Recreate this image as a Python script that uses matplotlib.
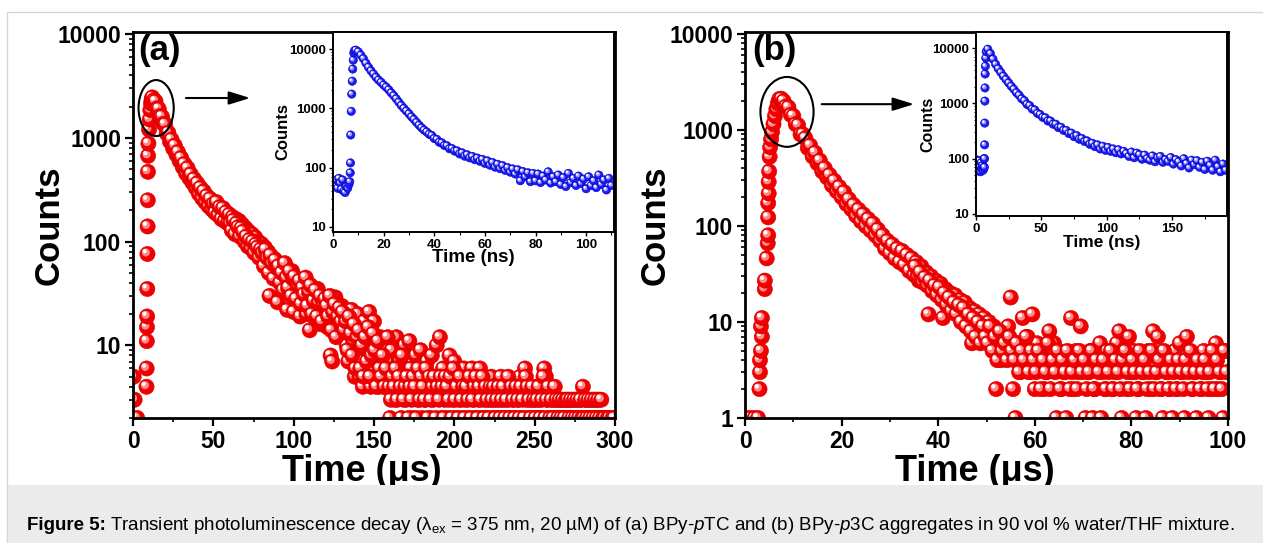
import numpy as np
import matplotlib
matplotlib.use('Agg')
import matplotlib.pyplot as plt
from matplotlib.patches import Ellipse, Rectangle
from matplotlib.ticker import LogLocator, MultipleLocator, NullFormatter

# ---------------- data ----------------
# (a) BPy-pTC, microsecond decay: early points (pre-pulse + rising edge)
a_early_t = [0.4, 1.0, 2.6, 8.4, 8.5, 8.6, 8.7, 8.8, 8.9, 9.0, 9.1, 9.2, 9.3, 9.4,
             9.6, 10.0, 10.4, 10.8, 11.2, 11.6]
a_early_counts = [5, 3, 2, 4, 6, 11, 15, 19, 35, 76, 140, 250, 470, 670,
                  880, 1200, 1500, 1850, 2150, 2350]
# decay, one channel per microsecond starting at 12 us
a_decay_start = 12
a_decay_counts = [
    2450, 2300, 2250, 1920, 1900, 1620, 1600, 1360,
    1350, 1100, 1120, 920, 960, 790, 840, 690, 730, 600,
    640, 520, 560, 455, 510, 410, 445, 370, 400, 330,
    365, 290, 330, 262, 305, 240, 275, 220, 258, 205,
    230, 190, 240, 180, 215, 165, 210, 158, 192, 150,
    182, 140, 172, 130, 165, 122, 158, 112, 146, 108,
    135, 98, 125, 92, 118, 84, 110, 76, 100, 72,
    95, 66, 88, 60, 80, 30, 72, 52, 68, 46,
    26, 62, 44, 55, 38, 58, 22, 48, 34, 52,
    21, 44, 30, 38, 19, 40, 28, 34, 20, 36,
    14, 32, 22, 30, 18, 35, 24, 16, 29, 21,
    26, 15, 22, 8, 7, 18, 29, 13, 20, 16,
    24, 12, 18, 10, 7, 16, 22, 11, 5, 14,
    20, 5, 13, 4, 17, 9, 5, 21, 4, 11,
    17, 5, 8, 4, 12, 6, 4, 10, 5, 7,
    2, 9, 5, 3, 12, 4, 7, 2, 5, 10,
    3, 4, 11, 6, 2, 5, 8, 3, 4, 9,
    2, 5, 3, 7, 4, 2, 8, 3, 5, 10,
    4, 12, 2, 6, 3, 5, 2, 8, 4, 3,
    7, 2, 5, 3, 4, 2, 6, 3, 5, 2,
    4, 6, 3, 2, 5, 3, 6, 2, 4, 3,
    2, 4, 3, 5, 2, 3, 4, 2, 3, 5,
    2, 3, 4, 2, 3, 2, 4, 3, 2, 4,
    3, 5, 2, 4, 6, 3, 2, 4, 3, 2,
    3, 4, 2, 3, 2, 4, 6, 5, 3, 2,
    4, 3, 2, 3, 2, 3, 2, 3, 2, 3,
    2, 3, 2, 3, 2, 3, 2, 3, 2, 3,
    4, 2, 3, 2, 3, 2, 3, 2, 3, 2,
    3, 2, 2, 1, 2, 1, 2, 1, 2, 1, 2]
# in-between channels (half microsecond offsets) from 60.5 us on
a_extra_start = 60.5
a_extra_counts = [
    150, 128, 160, 118, 150, 138, 112, 135, 125, 100,
    112, 90, 104, 86, 100, 78, 94, 88, 70, 84,
    78, 58, 84, 70, 50, 74, 62, 44, 66, 56,
    58, 40, 50, 34, 62, 45, 36, 52, 30, 44,
    46, 28, 38, 42, 25, 36, 31, 45, 24, 33,
    38, 20, 27, 34, 19, 26, 30, 17, 25, 28,
    24, 19, 30, 14, 21, 25, 12, 19, 23, 17,
    21, 14, 17, 9, 19, 13, 8, 16, 6, 12,
    14, 6, 10, 5, 12, 7, 15, 5, 8, 13,
    9, 4, 11, 6, 5, 8, 4, 6, 12, 4,
    3, 5, 4, 6, 3, 5, 4, 8, 3, 4,
    5, 2, 4, 3, 5, 4, 2, 6, 3, 5,
    4, 3, 6, 2, 5, 3, 4, 5, 2, 4,
    3, 5, 4, 2, 5, 4, 3, 5, 2, 6,
    3, 4, 2, 5, 3, 4, 2, 4, 3, 5,
    2, 3, 4, 5, 2, 4, 3, 5, 2, 4,
    3, 2, 4, 3, 4, 2, 3, 4, 2, 3,
    4, 2, 3, 5, 2, 4, 3, 2, 4, 3,
    2, 4, 3, 2, 5, 4, 3, 2, 4, 3,
    2, 3, 4, 2, 3, 5, 2, 3, 4, 2,
    3, 2, 4, 3, 2, 3, 2, 3, 2, 3,
    3, 2, 3, 2, 3, 2, 3, 2, 3, 2,
    2, 3, 2, 3, 2, 3, 2, 3, 2, 3,
    2, 3, 2, 2, 1, 2, 2, 1, 2, 2]

# (a) inset, nanosecond decay
ia_early_t = [0.8, 1.3, 1.8, 2.3, 2.8, 3.3, 3.8, 4.3, 4.8, 5.3, 5.8, 6.3, 6.6,
              6.8, 6.9, 7.0, 7.2, 7.4, 7.6, 7.8, 8.0, 8.2, 8.5]
ia_early_counts = [50, 62, 45, 66, 55, 43, 62, 40, 38, 48, 45, 52, 58,
                   82, 120, 355, 890, 1740, 2870, 4600, 6500, 8600, 9400]
ia_decay_start = 9
ia_decay_counts = [
    9600, 9000, 7900, 6900, 5800, 4950, 4300, 3800, 3350, 3000,
    2750, 2480, 2280, 2060, 1830, 1640, 1450, 1270, 1120, 1000,
    900, 810, 720, 650, 580, 520, 470, 430, 400, 365,
    350, 310, 300, 268, 262, 236, 234, 208, 210, 190,
    192, 170, 178, 156, 165, 146, 155, 136, 145, 128,
    138, 118, 130, 110, 122, 102, 114, 96, 108, 90,
    100, 84, 95, 78, 92, 60, 86, 70, 82, 58,
    80, 60, 78, 56, 72, 62, 85, 55, 70, 58,
    75, 52, 68, 48, 80, 56, 66, 50, 72, 54,
    64, 44, 70, 50, 60, 46, 75, 52, 62, 42,
    66, 50]

# (b) BPy-p3C, microsecond decay
b_early_t = [0.4, 1.2, 2.0, 2.7, 3.0, 3.1, 3.1, 3.3, 3.5, 3.3, 3.5, 4.1, 4.1, 4.5,
             4.7, 4.8, 4.8, 4.8, 4.9, 4.9, 5.0, 5.1, 5.2, 5.4, 5.6, 5.9, 6.2, 6.5,
             6.8, 7.1]
b_early_counts = [1, 1, 1, 1, 2, 3, 4, 5, 7, 9, 11, 22, 27, 46,
                  66, 80, 123, 173, 218, 288, 370, 525, 660, 800, 950, 1150, 1400, 1650,
                  1900, 2100]
# decay, channels every 0.5 us starting at 7.5 us
b_decay_start = 7.5
b_decay_step = 0.5
b_decay_counts = [
    2120, 2000, 1760, 1720, 1440, 1400, 1150, 1120, 900, 900,
    820, 650, 690, 530, 580, 450, 480, 370, 400, 320,
    340, 265, 295, 230, 255, 200, 225, 170, 190, 150,
    165, 128, 148, 112, 132, 100, 118, 90, 106, 80,
    92, 70, 80, 58, 70, 52, 64, 46, 58, 42,
    55, 39, 50, 34, 46, 31, 42, 27, 38, 26,
    33, 12, 30, 22, 27, 19, 25, 11, 22, 16,
    20, 14, 19, 13, 17, 12, 16, 11, 14, 6,
    13, 9, 12, 8, 11, 7, 10, 6, 9, 2,
    8, 4, 7, 5, 9, 18, 2, 1, 6, 3,
    11, 5, 7, 3, 12, 2, 6, 4, 5, 2,
    3, 8, 4, 6, 1, 5, 2, 3, 1, 4,
    11, 2, 5, 3, 9, 4, 1, 3, 5, 1,
    2, 4, 6, 3, 2, 5, 4, 2, 3, 6,
    8, 1, 4, 2, 7, 3, 5, 1, 2, 4,
    3, 1, 5, 2, 8, 3, 7, 2, 1, 4,
    3, 2, 1, 5, 2, 6, 3, 1, 7, 4,
    2, 3, 1, 4, 2, 5, 3, 1, 2, 4,
    6, 2, 3, 1, 5, 3]
# in-between channels (quarter offsets) from 35.25 us on
b_extra_start = 35.25
b_extra_counts = [
    38, 30, 33, 26, 29, 24, 27, 21, 24, 19,
    23, 17, 20, 15, 18, 13, 16, 12, 15, 10,
    14, 9, 12, 8, 11, 7, 10, 6, 9, 7,
    6, 9, 5, 7, 4, 8, 5, 6, 4, 7,
    5, 4, 6, 3, 5, 4, 7, 3, 5, 4,
    3, 5, 2, 4, 3, 6, 2, 4, 3, 5,
    2, 4, 3, 5, 2, 3, 4, 2, 5, 3,
    4, 2, 3, 5, 2, 4, 3, 1, 4, 2,
    3, 5, 2, 4, 3, 2, 4, 5, 3, 2,
    4, 3, 2, 5, 3, 4, 2, 3, 5, 2,
    3, 4, 2, 5, 3, 2, 4, 3, 2, 4,
    3, 2, 4, 3, 5, 2, 3, 4, 2, 3,
    4, 2, 3, 5, 2, 4, 3, 2, 5, 3]

# (b) inset, nanosecond decay
ib_early_t = [0.5, 1.0, 1.5, 2.0, 2.5, 3.0, 3.5, 4.0, 4.5, 5.0, 5.5, 6.0, 6.2,
              6.4, 6.5, 6.6, 6.7, 6.8, 6.9, 7.0, 7.2, 7.5, 7.8]
ib_early_counts = [95, 68, 80, 60, 92, 72, 58, 85, 66, 75, 62, 70, 100,
                   70, 100, 178, 440, 1100, 1900, 3400, 4700, 6600, 8600]
ib_decay_start = 9
ib_decay_step = 2
ib_decay_counts = [
    9550, 7950, 6300, 5100, 4250, 3630, 3100, 2700, 2340, 2040,
    1800, 1560, 1400, 1210, 1120, 960, 910, 790, 760, 660,
    630, 560, 550, 480, 480, 420, 420, 365, 370, 325,
    325, 285, 290, 250, 262, 225, 232, 205, 210, 182,
    190, 165, 178, 150, 168, 142, 160, 136, 150, 128,
    145, 122, 136, 124, 110, 132, 104, 126, 118, 98,
    116, 100, 94, 112, 88, 104, 110, 86, 96, 90,
    105, 80, 96, 88, 74, 100, 82, 68, 94, 78,
    92, 70, 86, 64, 90, 76, 62, 94, 72, 58,
    80, 62]

main_a_xticks = [0, 50, 100, 150, 200, 250, 300]
main_b_xticks = [0, 20, 40, 60, 80, 100]
inset_a_xticks = [0, 20, 40, 60, 80, 100]
inset_b_xticks = [0, 50, 100, 150]
main_a_yticks = [10, 100, 1000, 10000]
main_b_yticks = [1, 10, 100, 1000, 10000]
inset_yticks = [10, 100, 1000, 10000]

caption_head = 'Figure 5:'
caption_body = (r"Transient photoluminescence decay (λ$_{\mathrm{ex}}$ = 375 nm, 20 µM) of "
                r"(a) BPy-$\mathit{p}$TC and (b) BPy-$\mathit{p}$3C aggregates in 90 vol % "
                r"water/THF mixture.")

# ---------------- style ----------------
plt.rcParams['font.family'] = ['Liberation Sans', 'DejaVu Sans']
plt.rcParams['axes.labelweight'] = 'bold'
plt.rcParams['mathtext.fontset'] = 'custom'
plt.rcParams['mathtext.rm'] = 'Liberation Sans'
plt.rcParams['mathtext.it'] = 'Liberation Sans:italic'
plt.rcParams['mathtext.bf'] = 'Liberation Sans:bold'

W, H = 1263, 543
fig = plt.figure(figsize=(W / 100, H / 100), dpi=100)


def box(l, t, r, b):
    return [l / W, 1 - b / H, (r - l) / W, (b - t) / H]


def spheres(ax, t, c, base, edge, mid, s, dx):
    # each point = red ball + soft spot + white glint, drawn point by point
    # so later balls cover the glints of earlier ones (limits must be set first)
    pts = np.column_stack([t, c]).astype(float)
    disp = ax.transData.transform(pts)
    inv = ax.transData.inverted()
    p1 = inv.transform(disp + np.array([-dx * 0.55, dx * 0.55]))
    p2 = inv.transform(disp + np.array([-dx, dx]))
    n = len(pts)
    xy = np.empty((3 * n, 2))
    xy[0::3], xy[1::3], xy[2::3] = pts, p1, p2
    sizes = np.tile([s, s * 0.28, s * 0.08], n)
    fcs = [base, mid, 'white'] * n
    ecs = [edge, 'none', 'none'] * n
    lws = np.tile([0.4, 0.0, 0.0], n)
    ax.scatter(xy[:, 0], xy[:, 1], s=sizes, c=fcs, edgecolors=ecs, linewidths=lws, zorder=2)


def style_axes(ax, xticks, yticks, xminor, big):
    ax.set_yscale('log')
    size = 16.5 if big else 9.5
    ax.set_xticks(xticks)
    ax.set_xticklabels([str(v) for v in xticks], fontweight='bold', fontsize=size)
    ax.set_yticks(yticks)
    ax.set_yticklabels([str(v) for v in yticks], fontweight='bold', fontsize=size)
    ax.xaxis.set_minor_locator(MultipleLocator(xminor))
    ax.yaxis.set_minor_locator(LogLocator(base=10, subs=np.arange(2, 10)))
    ax.yaxis.set_minor_formatter(NullFormatter())
    if big:
        for sp in ax.spines.values():
            sp.set_linewidth(2.0)
        ax.tick_params(which='major', direction='out', length=5.5, width=1.6, pad=3)
        ax.tick_params(which='minor', direction='out', length=3, width=1.2)
    else:
        for sp in ax.spines.values():
            sp.set_linewidth(1.4)
        ax.tick_params(which='major', direction='out', length=3, width=1.0, pad=2)
        ax.tick_params(which='minor', direction='out', length=1.8, width=0.8)


# background pieces: light frame and caption band
fig.add_artist(Rectangle((7 / W, -0.01), 1.0, 1 - 12 / H + 0.01, transform=fig.transFigure,
                         fill=False, ec='#d6d6d6', lw=1.0))
fig.add_artist(Rectangle((8 / W, 0), 1.0, 58 / H, transform=fig.transFigure,
                         fc='#ebebeb', ec='none'))
head = fig.text(27 / W, 17 / H, caption_head, fontsize=13.5, fontweight='bold',
                va='center', ha='left')
renderer = fig.canvas.get_renderer()
head_box = head.get_window_extent(renderer=renderer)
fig.text((head_box.x1 + 4) / W, 17 / H, caption_body, fontsize=13.5, va='center', ha='left')

ax_a = fig.add_axes(box(133, 32, 615, 418))
ax_b = fig.add_axes(box(745, 32, 1228, 418))
in_a = fig.add_axes(box(333, 32, 614, 232))
in_b = fig.add_axes(box(976, 32, 1227, 216))

red = ('#f00000', '#d80000', '#ff8a8a')
blue = ('#1c1cf0', '#0000c8', '#9a9aff')

# panel (a)
style_axes(ax_a, main_a_xticks, main_a_yticks, 25, True)
ax_a.set_xlim(0, 300)
ax_a.set_ylim(2, 10450)
t_a = (list(a_early_t) + list(a_decay_start + np.arange(len(a_decay_counts)))
       + list(a_extra_start + np.arange(len(a_extra_counts))))
c_a = list(a_early_counts) + list(a_decay_counts) + list(a_extra_counts)
spheres(ax_a, t_a, c_a, *red, s=120, dx=2.8)
ax_a.set_xlabel('Time (μs)', fontsize=26)
ax_a.set_ylabel('Counts', fontsize=25)
ax_a.xaxis.set_label_coords(0.475, -0.093)
ax_a.yaxis.set_label_coords(-0.139, 0.5)
ax_a.text(0.01, 0.995, '(a)', transform=ax_a.transAxes, fontsize=25, fontweight='bold',
          va='top', ha='left')
ax_a.add_patch(Ellipse((0.048, 0.803), 0.073, 0.145, transform=ax_a.transAxes,
                       fill=False, ec='black', lw=1.5, zorder=6))
ax_a.annotate('', xy=(0.249, 0.829), xytext=(0.104, 0.829), xycoords='axes fraction',
              arrowprops=dict(arrowstyle='-|>,head_length=1.3,head_width=0.4',
                              mutation_scale=10, lw=1.5, color='black'))

# panel (b)
style_axes(ax_b, main_b_xticks, main_b_yticks, 10, True)
ax_b.set_xlim(0, 100)
ax_b.set_ylim(1, 10490)
t_b = (list(b_early_t) + list(b_decay_start + b_decay_step * np.arange(len(b_decay_counts)))
       + list(b_extra_start + b_decay_step * np.arange(len(b_extra_counts))))
c_b = list(b_early_counts) + list(b_decay_counts) + list(b_extra_counts)
spheres(ax_b, t_b, c_b, *red, s=120, dx=2.8)
ax_b.set_xlabel('Time (μs)', fontsize=26)
ax_b.set_ylabel('Counts', fontsize=25)
ax_b.xaxis.set_label_coords(0.476, -0.093)
ax_b.yaxis.set_label_coords(-0.151, 0.5)
ax_b.text(0.0145, 0.995, '(b)', transform=ax_b.transAxes, fontsize=25, fontweight='bold',
          va='top', ha='left')
ax_b.add_patch(Ellipse((0.087, 0.793), 0.110, 0.181, transform=ax_b.transAxes,
                       fill=False, ec='black', lw=1.5, zorder=6))
ax_b.annotate('', xy=(0.356, 0.813), xytext=(0.153, 0.813), xycoords='axes fraction',
              arrowprops=dict(arrowstyle='-|>,head_length=1.3,head_width=0.4',
                              mutation_scale=10, lw=1.5, color='black'))

# inset (a)
style_axes(in_a, inset_a_xticks, inset_yticks, 10, False)
in_a.set_xlim(0, 111)
in_a.set_ylim(8.2, 19400)
t_ia = list(ia_early_t) + list(ia_decay_start + np.arange(len(ia_decay_counts)))
c_ia = list(ia_early_counts) + list(ia_decay_counts)
spheres(in_a, t_ia, c_ia, *blue, s=36, dx=1.5)
in_a.set_xlabel('Time (ns)', fontsize=13.5)
in_a.set_ylabel('Counts', fontsize=12)
in_a.xaxis.set_label_coords(0.5, -0.085)
in_a.yaxis.set_label_coords(-0.15, 0.5)

# inset (b)
style_axes(in_b, inset_b_xticks, inset_yticks, 25, False)
in_b.set_xlim(0, 192)
in_b.set_ylim(9.2, 19500)
t_ib = list(ib_early_t) + list(ib_decay_start + ib_decay_step * np.arange(len(ib_decay_counts)))
c_ib = list(ib_early_counts) + list(ib_decay_counts)
spheres(in_b, t_ib, c_ib, *blue, s=36, dx=1.5)
in_b.set_xlabel('Time (ns)', fontsize=12.5)
in_b.set_ylabel('Counts', fontsize=11.5)
in_b.xaxis.set_label_coords(0.5, -0.105)
in_b.yaxis.set_label_coords(-0.16, 0.5)

fig.savefig('out.png', dpi=100)
